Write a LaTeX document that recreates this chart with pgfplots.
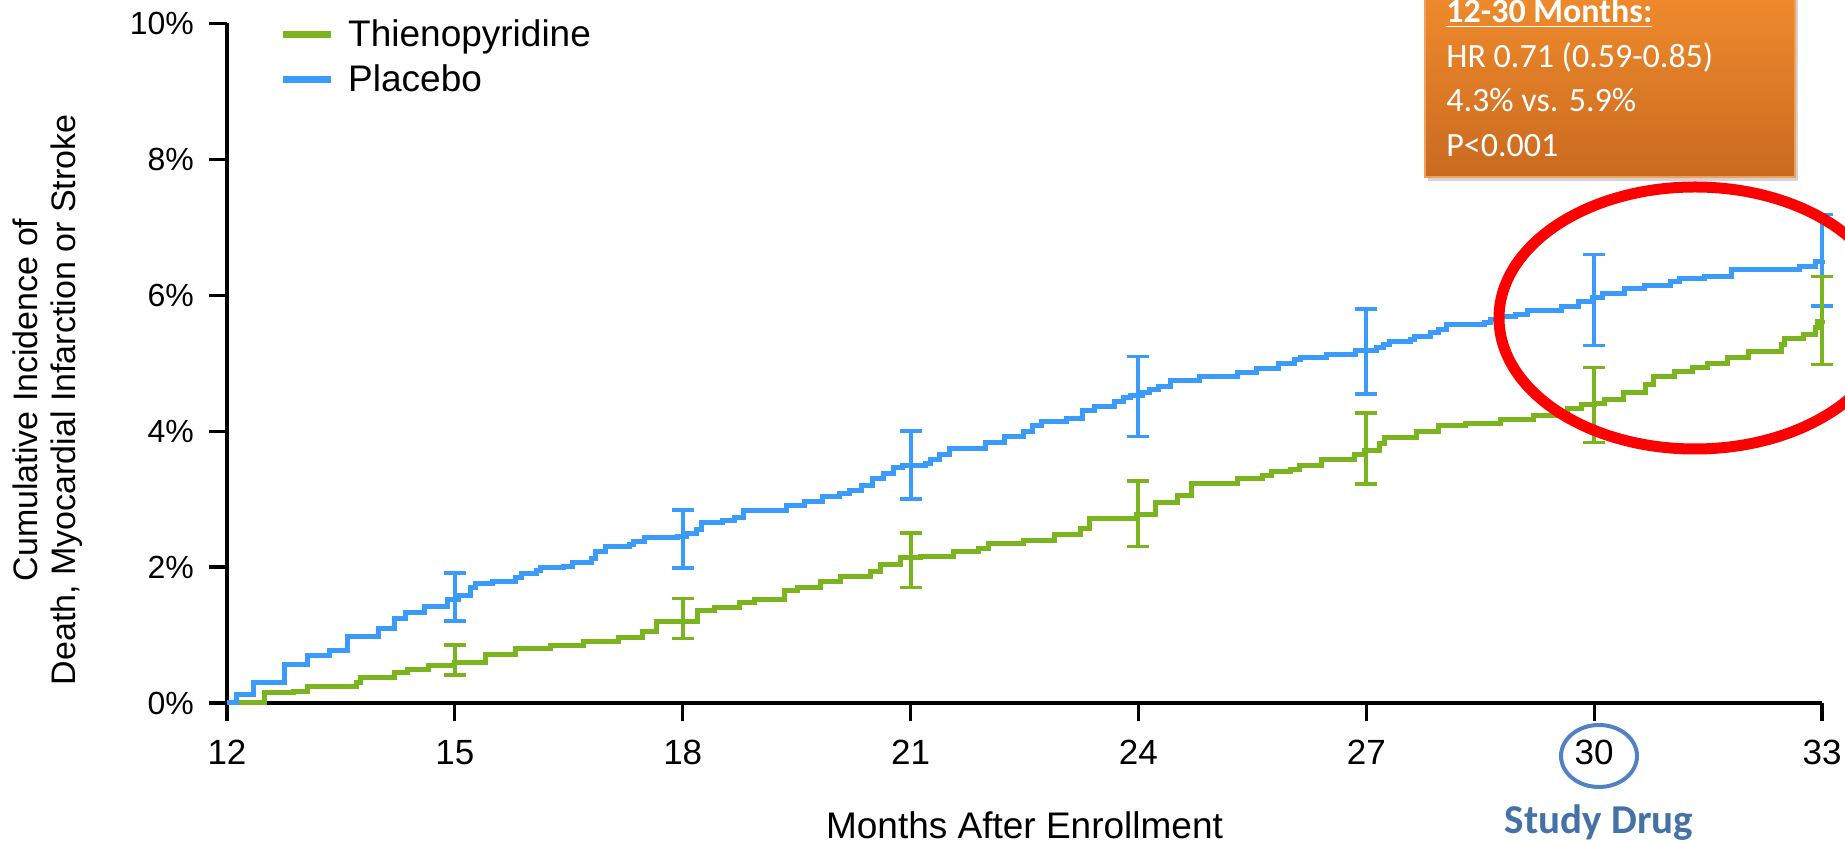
\documentclass[border=0pt]{standalone}
\usepackage{fontspec}
\setmainfont{Liberation Sans}
\newfontfamily\calibri{Carlito}
\usepackage{pgfplots}
\usepackage{pgfplotstable}
\pgfplotsset{compat=1.18}
\usetikzlibrary{shadows}

\definecolor{pblue}{RGB}{58,155,250}
\definecolor{tgreen}{RGB}{122,180,30}
\definecolor{sdblue}{RGB}{68,114,166}
\definecolor{ringblue}{RGB}{82,130,192}
\definecolor{otop}{RGB}{249,148,48}
\definecolor{obot}{RGB}{202,106,32}
\definecolor{oedge}{RGB}{240,160,90}

% Kaplan-Meier steps, months vs cumulative incidence (%)
\pgfplotstableread{
x y
12.00 0
12.12 0.13
12.35 0.30
12.76 0.56
13.06 0.70
13.35 0.77
13.59 0.98
14.00 1.10
14.20 1.25
14.35 1.33
14.60 1.42
14.90 1.52
15.05 1.58
15.20 1.70
15.27 1.76
15.50 1.79
15.80 1.85
15.88 1.90
16.08 1.95
16.13 1.99
16.43 2.01
16.55 2.07
16.80 2.13
16.85 2.23
16.98 2.30
17.30 2.33
17.35 2.38
17.50 2.43
17.93 2.45
18.05 2.49
18.18 2.56
18.25 2.66
18.53 2.68
18.68 2.73
18.80 2.84
19.36 2.91
19.60 2.97
19.84 3.04
20.07 3.08
20.20 3.13
20.36 3.20
20.50 3.30
20.65 3.38
20.78 3.47
20.90 3.50
21.20 3.53
21.26 3.58
21.38 3.65
21.51 3.74
21.98 3.84
22.23 3.92
22.49 4.00
22.60 4.08
22.72 4.15
23.05 4.18
23.26 4.31
23.42 4.36
23.68 4.43
23.80 4.49
23.90 4.53
24.05 4.57
24.15 4.62
24.26 4.66
24.42 4.75
24.80 4.80
25.31 4.86
25.55 4.93
25.85 4.99
26.05 5.05
26.13 5.09
26.48 5.13
26.86 5.19
27.14 5.23
27.22 5.28
27.31 5.32
27.58 5.35
27.63 5.40
27.85 5.45
27.95 5.50
28.06 5.57
28.55 5.60
28.63 5.65
28.77 5.69
28.96 5.72
29.12 5.78
29.57 5.84
29.79 5.91
29.98 5.97
30.11 6.02
30.40 6.10
30.66 6.15
31.00 6.20
31.13 6.25
31.45 6.28
31.81 6.38
32.70 6.43
32.91 6.50
33.00 6.52
}\placebo

\pgfplotstableread{
x y
12.00 0
12.50 0.15
12.88 0.17
13.06 0.25
13.70 0.30
13.76 0.37
14.20 0.45
14.38 0.50
14.65 0.55
15.00 0.60
15.40 0.72
15.80 0.80
16.26 0.85
16.70 0.90
17.15 0.97
17.47 1.05
17.65 1.20
18.19 1.36
18.42 1.40
18.75 1.48
18.95 1.53
19.34 1.65
19.51 1.70
19.82 1.79
20.08 1.86
20.47 1.93
20.60 2.04
20.87 2.14
21.13 2.16
21.57 2.23
21.90 2.27
22.03 2.34
22.49 2.39
22.89 2.48
23.24 2.57
23.35 2.71
23.97 2.78
24.23 2.95
24.52 3.05
24.70 3.23
25.31 3.31
25.63 3.35
25.75 3.41
26.00 3.43
26.12 3.50
26.41 3.58
26.85 3.65
26.97 3.72
27.18 3.82
27.24 3.90
27.66 4.00
27.95 4.08
28.30 4.11
28.77 4.17
29.20 4.23
29.65 4.33
29.83 4.39
30.00 4.41
30.14 4.46
30.38 4.57
30.68 4.68
30.78 4.80
31.06 4.88
31.29 4.94
31.49 4.99
31.76 5.08
32.03 5.18
32.46 5.28
32.51 5.36
32.76 5.42
32.92 5.52
32.94 5.62
33.00 5.63
}\thieno

% confidence bars: centre, plus, minus
\pgfplotstableread{
x y ep em
15 1.55 0.36 0.34
18 2.45 0.39 0.46
21 3.50 0.50 0.50
24 4.55 0.55 0.63
27 5.20 0.60 0.65
30 5.97 0.63 0.71
33 6.52 0.67 0.68
}\placeboci

\pgfplotstableread{
x y ep em
15 0.60 0.25 0.19
18 1.22 0.32 0.27
21 2.14 0.36 0.44
24 2.78 0.49 0.48
27 3.72 0.55 0.50
30 4.41 0.53 0.58
33 5.63 0.65 0.65
}\thienoci

\begin{document}
\begin{tikzpicture}
% page frame (axis box lower left sits at the origin)
\path[use as bounding box] (-113.5pt,-70.5pt) rectangle (809pt,351.5pt);
\begin{axis}[
    name=ax,
    at={(0,0)}, anchor=south west,
    scale only axis,
    width=797.5pt, height=339.75pt,
    xmin=12, xmax=33, ymin=0, ymax=10,
    clip=false,
    axis lines*=left,
    axis line style={line width=1.6pt, black},
    xtick={12,15,18,21,24,27,30,33},
    xticklabels={12,15,18,21,24,27,30,33},
    ytick={0,2,4,6,8,10},
    yticklabels={0\%,2\%,4\%,6\%,8\%,10\%},
    /pgf/number format/assume math mode=true,
    tick align=outside,
    major tick length=9pt,
    tick style={line width=1.6pt, black},
    x tick label style={font=\fontsize{17.5}{20}\selectfont, yshift=-6pt},
    y tick label style={font=\fontsize{16}{18}\selectfont, xshift=-4pt},
    xlabel={Months After Enrollment},
    xlabel style={font=\fontsize{18.5}{21}\selectfont, at={(axis description cs:0.5,-0.1795)}, anchor=center},
    ylabel={Cumulative Incidence of\\Death, Myocardial Infarction or Stroke},
    ylabel style={font=\fontsize{17}{19}\selectfont, align=center, at={(axis description cs:-0.1122,0.446)}, anchor=center},
    legend style={at={(axis description cs:0.0325,1.0125)}, anchor=north west,
        draw=none, fill=none, inner sep=0pt,
        font=\fontsize{18.5}{22}\selectfont, row sep=3.5pt,
        nodes={inner sep=2pt},
        /tikz/every odd column/.append style={column sep=5pt}},
    legend cell align=left,
    legend image code/.code={\draw[line width=3.5pt,#1] (0pt,0pt) -- (24pt,0pt);},
]
\addplot[const plot, line width=2.5pt, color=tgreen] table[x=x,y=y] {\thieno};
\addlegendentry{Thienopyridine}
\addplot[const plot, line width=2.5pt, color=pblue] table[x=x,y=y] {\placebo};
\addlegendentry{Placebo}

\addplot[draw=none, no markers, forget plot,
    error bars/.cd, y dir=both, y explicit,
    error bar style={line width=2pt, draw=pblue},
    error mark options={rotate=90, mark size=5.5pt, line width=1.75pt, draw=pblue}]
    table[x=x, y=y, y error plus=ep, y error minus=em] {\placeboci};
\addplot[draw=none, no markers, forget plot,
    error bars/.cd, y dir=both, y explicit,
    error bar style={line width=2pt, draw=tgreen},
    error mark options={rotate=90, mark size=5.5pt, line width=1.75pt, draw=tgreen}]
    table[x=x, y=y, y error plus=ep, y error minus=em] {\thienoci};
\end{axis}

% highlight ring
\draw[red, line width=5.5pt] (734pt,192.5pt) ellipse [x radius=98pt, y radius=65.5pt];
% result box
\path[top color=otop, bottom color=obot, draw=oedge, line width=0.8pt,
      drop shadow={shadow xshift=1.5pt, shadow yshift=-2pt, opacity=0.35}]
      (599pt,263pt) rectangle (784pt,380pt);
\begin{scope}[every node/.style={anchor=base west, inner sep=0pt, text=white, font=\calibri\fontsize{17}{20}\selectfont}]
  \node at (609.5pt,340pt) {\bfseries\underline{12-30 Months:}};
  \node at (609.5pt,317.5pt) {HR 0.71 (0.59-0.85)};
  \node at (609.5pt,295.5pt) {4.3\% vs. 5.9\%};
  \node at (609.5pt,273pt) {P<0.001};
\end{scope}
% study drug marker
\draw[ringblue, line width=2pt] (686pt,-26.5pt) ellipse [x radius=19pt, y radius=15.5pt];
\node[anchor=base, inner sep=0pt, text=sdblue, font=\calibri\bfseries\fontsize{20.5}{24}\selectfont] at (686pt,-65.5pt) {Study Drug};
\end{tikzpicture}
\end{document}
